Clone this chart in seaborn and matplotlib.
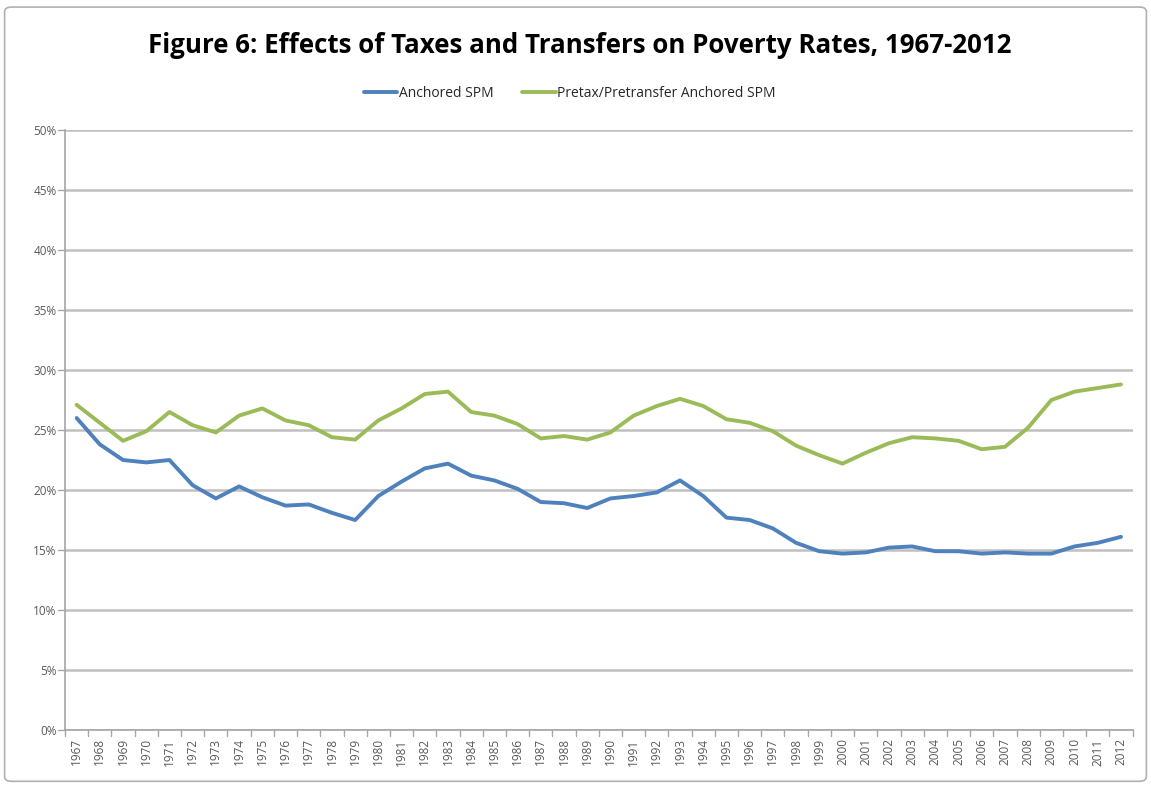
import numpy as np
import pandas as pd
import matplotlib
matplotlib.use("Agg")
import matplotlib.pyplot as plt
from matplotlib.patches import FancyBboxPatch
from matplotlib.ticker import PercentFormatter
import seaborn as sns

years = list(range(1967, 2013))
anchored_spm = [26.0, 23.8, 22.5, 22.3, 22.5, 20.4, 19.3, 20.3, 19.4, 18.7,
                18.8, 18.1, 17.5, 19.5, 20.7, 21.8, 22.2, 21.2, 20.8, 20.1,
                19.0, 18.9, 18.5, 19.3, 19.5, 19.8, 20.8, 19.5, 17.7, 17.5,
                16.8, 15.6, 14.9, 14.7, 14.8, 15.2, 15.3, 14.9, 14.9, 14.7,
                14.8, 14.7, 14.7, 15.3, 15.6, 16.1]
pretax_spm = [27.1, 25.6, 24.1, 24.9, 26.5, 25.4, 24.8, 26.2, 26.8, 25.8,
              25.4, 24.4, 24.2, 25.8, 26.8, 28.0, 28.2, 26.5, 26.2, 25.5,
              24.3, 24.5, 24.2, 24.8, 26.2, 27.0, 27.6, 27.0, 25.9, 25.6,
              24.9, 23.7, 22.9, 22.2, 23.1, 23.9, 24.4, 24.3, 24.1, 23.4,
              23.6, 25.2, 27.5, 28.2, 28.5, 28.8]
series_names = ["Anchored SPM", "Pretax/Pretransfer Anchored SPM"]
colors = ["#4f81bd", "#9bbb59"]

df = pd.DataFrame({
    "year": years * 2,
    "rate": anchored_spm + pretax_spm,
    "series": [series_names[0]] * len(years) + [series_names[1]] * len(years),
})

sns.set_style("white")
plt.rcParams["font.family"] = ["Open Sans", "DejaVu Sans"]

fig = plt.figure(figsize=(11.51, 7.86), dpi=100)
ax = fig.add_axes([0.0565, 0.0712, 0.9275, 0.7634])

sns.lineplot(data=df, x="year", y="rate", hue="series", palette=colors,
             linewidth=2.8, ax=ax, legend=False)

ax.set_ylim(0, 50)
ax.set_xlim(1966.5, 2012.5)
ax.set_yticks(np.arange(0, 51, 5))
ax.yaxis.set_major_formatter(PercentFormatter(decimals=0))
ax.set_xticks(years)
ax.set_xticklabels([str(y) for y in years], rotation=90)
ax.tick_params(axis="both", labelsize=8.5, colors="#595959", length=0, pad=6)
ax.set_xlabel("")
ax.set_ylabel("")
ax.grid(axis="y", color="#c0c0c0", linewidth=1.8)
ax.set_axisbelow(True)
for side in ["top", "right"]:
    ax.spines[side].set_visible(False)
for side in ["left", "bottom"]:
    ax.spines[side].set_color("#a6a6a6")
    ax.spines[side].set_linewidth(1.2)

# small category tick marks like excel
for x in np.arange(1966.5, 2013, 1.0):
    ax.plot([x, x], [0, -0.5], color="#a6a6a6", lw=1, clip_on=False)
for yv in range(0, 51, 5):
    ax.plot([1966.5 - 0.3, 1966.5], [yv, yv], color="#a6a6a6", lw=1, clip_on=False)

# legend
handles = [plt.Line2D([], [], color=c, lw=2.8) for c in colors]
fig.legend(handles, series_names, loc="center", bbox_to_anchor=(0.495, 0.881),
           ncol=2, frameon=False, fontsize=10, handlelength=2.4,
           handletextpad=0.1, columnspacing=2.1)

fig.text(0.504, 0.942, "Figure 6: Effects of Taxes and Transfers on Poverty Rates, 1967-2012",
         ha="center", va="center", fontsize=18.6, fontweight="bold", color="#000000")

border = FancyBboxPatch((0.004, 0.006), 0.992, 0.985, boxstyle="round,pad=0,rounding_size=0.006",
                        transform=fig.transFigure, fill=False, edgecolor="#b0b0b0", linewidth=1.2)
fig.patches.append(border)

fig.savefig("out.png", dpi=100)
